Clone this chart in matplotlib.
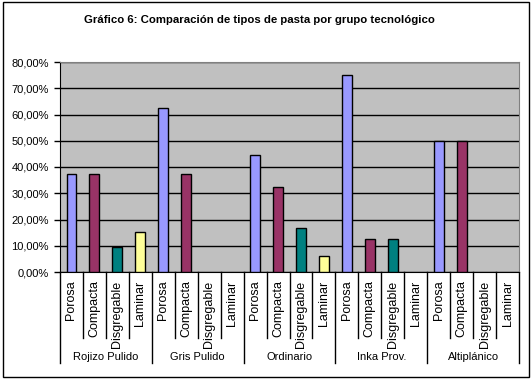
import numpy as np
import matplotlib
matplotlib.use("Agg")
import matplotlib.pyplot as plt
from matplotlib.patches import Rectangle

plt.rcParams['font.family'] = ['Liberation Sans', 'DejaVu Sans']

groups = ['Rojizo Pulido', 'Gris Pulido', 'Ordinario', 'Inka Prov.', 'Altiplánico']
tipos = ['Porosa', 'Compacta', 'Disgregable', 'Laminar']
colors = ['#9999FF', '#993366', '#008080', '#FFFF99']

# porcentajes por grupo (Porosa, Compacta, Disgregable, Laminar)
rojizo = [37.5, 37.5, 9.6, 15.4]
gris = [62.5, 37.5, 0, 0]
ordinario = [44.6, 32.3, 16.9, 6.2]
inka = [75.0, 12.5, 12.5, 0]
altiplanico = [50.0, 50.0, 0, 0]
values = [rojizo, gris, ordinario, inka, altiplanico]

W, H = 532, 383
fig = plt.figure(figsize=(W / 100, H / 100), dpi=100)
fig.patches.append(Rectangle((3 / W, 1 - 377 / H), 526 / W, 375 / H, transform=fig.transFigure,
                             fill=False, edgecolor='black', linewidth=1))

ax = fig.add_axes([60 / W, 1 - 272 / H, 459 / W, 210 / H])
ax.set_facecolor('#C0C0C0')

n = len(tipos)
for g, vals in enumerate(values):
    for i, v in enumerate(vals):
        if v > 0:
            ax.bar(g * n + i, v, width=0.43, color=colors[i], edgecolor='black', linewidth=1, zorder=3)

ax.set_xlim(-0.5, len(groups) * n - 0.5)
ax.set_ylim(0, 80)
ax.set_yticks(np.arange(0, 81, 10))
ax.set_yticklabels([f"{v:.2f}%".replace('.', ',') for v in np.arange(0, 81, 10)], fontsize=8)
ax.yaxis.grid(True, color='black', linewidth=1, zorder=1)
ax.tick_params(axis='y', length=4, width=1, color='black', pad=4)
ax.set_xticks([])
for s in ['top', 'right']:
    ax.spines[s].set_color('#808080')
for s in ['left', 'bottom']:
    ax.spines[s].set_color('black')

tr = ax.get_xaxis_transform()
total = len(groups) * n
for k in range(total + 1):
    x = k - 0.5
    y0 = -0.433 if k % n == 0 else -0.314
    ax.plot([x, x], [0, y0], transform=tr, color='black', linewidth=1, clip_on=False)

for g, name in enumerate(groups):
    for i, t in enumerate(tipos):
        ax.text(g * n + i, -0.04, t, transform=tr, rotation=90, ha='center', va='top', fontsize=9)
    ax.text(g * n + (n - 1) / 2, -0.405, name, transform=tr, ha='center', va='center', fontsize=8)

fig.text(259 / W, 1 - 20 / H, 'Gráfico 6: Comparación de tipos de pasta por grupo tecnológico',
         ha='center', va='center', fontsize=8.2, fontweight='bold')

fig.savefig('out.png', dpi=100)
